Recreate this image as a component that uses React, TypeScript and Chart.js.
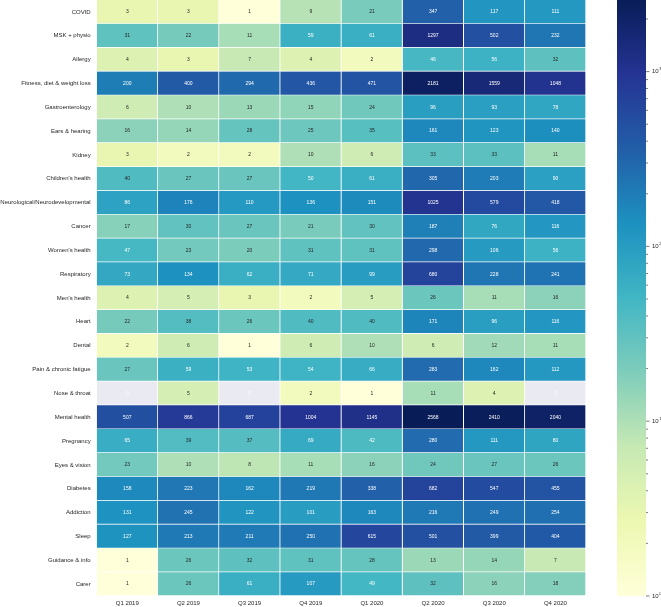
import React, { useEffect, useRef } from "react";
import { Chart, registerables } from "chart.js";

Chart.register(...registerables);

const categories = [
  "COVID", "MSK + physio", "Allergy", "Fitness, diet & weight loss", "Gastroenterology",
  "Ears & hearing", "Kidney", "Children's health", "Neurological/Neurodevelopmental", "Cancer",
  "Women's health", "Respiratory", "Men's health", "Heart", "Dental",
  "Pain & chronic fatigue", "Nose & throat", "Mental health", "Pregnancy", "Eyes & vision",
  "Diabetes", "Addiction", "Sleep", "Guidance & info", "Carer",
];

const quarters = ["Q1 2019", "Q2 2019", "Q3 2019", "Q4 2019", "Q1 2020", "Q2 2020", "Q3 2020", "Q4 2020"];

const q1_2019 = [3, 31, 4, 200, 6, 16, 3, 40, 86, 17, 47, 73, 4, 22, 2, 27, 0, 507, 65, 23, 158, 131, 127, 1, 1];
const q2_2019 = [3, 22, 3, 400, 10, 14, 2, 27, 176, 30, 23, 134, 5, 38, 6, 59, 5, 866, 39, 10, 223, 245, 213, 26, 26];
const q3_2019 = [1, 11, 7, 294, 13, 28, 2, 27, 110, 27, 20, 62, 3, 26, 1, 53, 0, 687, 37, 8, 162, 122, 211, 32, 61];
const q4_2019 = [9, 59, 4, 436, 15, 25, 10, 50, 136, 21, 31, 71, 2, 40, 6, 54, 2, 1004, 69, 11, 219, 101, 250, 31, 107];
const q1_2020 = [21, 61, 2, 471, 24, 35, 6, 61, 151, 30, 31, 99, 5, 40, 10, 66, 1, 1145, 42, 16, 338, 163, 615, 28, 49];
const q2_2020 = [347, 1297, 46, 2181, 96, 161, 33, 305, 1025, 187, 298, 680, 26, 171, 6, 283, 11, 2568, 280, 24, 682, 216, 501, 13, 32];
const q3_2020 = [117, 502, 56, 1559, 93, 123, 33, 203, 579, 76, 106, 228, 11, 96, 12, 162, 4, 2410, 111, 27, 547, 249, 399, 14, 16];
const q4_2020 = [111, 232, 32, 1048, 78, 140, 11, 90, 418, 116, 56, 241, 16, 116, 11, 112, 0, 2040, 80, 26, 455, 254, 404, 7, 18];

const columns = [q1_2019, q2_2019, q3_2019, q4_2019, q1_2020, q2_2020, q3_2020, q4_2020];

const colorbarMin = 1;
const colorbarMax = 2568;

const YLGNBU = [
  [1.0, 1.0, 0.85098], [0.92941, 0.97255, 0.69412], [0.78039, 0.91373, 0.70588],
  [0.49804, 0.80392, 0.73333], [0.2549, 0.71373, 0.76863], [0.11373, 0.56863, 0.75294],
  [0.13333, 0.36863, 0.65882], [0.1451, 0.20392, 0.58039], [0.03137, 0.11373, 0.3451],
];
const BAD = "#EAEAF2";

function cmapRGB(t: number): number[] {
  const tt = Math.max(0, Math.min(1, t)) * (YLGNBU.length - 1);
  const i = Math.min(YLGNBU.length - 2, Math.floor(tt));
  const f = tt - i;
  const a = YLGNBU[i], b = YLGNBU[i + 1];
  return [0, 1, 2].map((k) => a[k] + (b[k] - a[k]) * f);
}
function toCss(c: number[]) {
  return `rgb(${Math.round(c[0] * 255)},${Math.round(c[1] * 255)},${Math.round(c[2] * 255)})`;
}
function normLog(v: number) {
  return (Math.log10(v) - Math.log10(colorbarMin)) / (Math.log10(colorbarMax) - Math.log10(colorbarMin));
}
function cellColor(v: number) {
  if (!(v > 0)) return BAD;
  return toCss(cmapRGB(normLog(v)));
}
function lum(c: number[]) {
  const lin = c.map((x) => (x <= 0.03928 ? x / 12.92 : Math.pow((x + 0.055) / 1.055, 2.4)));
  return 0.2126 * lin[0] + 0.7152 * lin[1] + 0.0722 * lin[2];
}
function textColor(v: number) {
  if (!(v > 0)) return "#ffffff";
  return lum(cmapRGB(normLog(v))) > 0.408 ? "#262626" : "#ffffff";
}

const FONT = "'Liberation Sans', Arial, sans-serif";

const annotatePlugin = {
  id: "annotate",
  afterDatasetsDraw(chart: any) {
    const ctx = chart.ctx;
    ctx.save();
    ctx.font = `5px ${FONT}`;
    ctx.textAlign = "center";
    ctx.textBaseline = "middle";
    chart.data.datasets.forEach((ds: any, j: number) => {
      const meta = chart.getDatasetMeta(j);
      meta.data.forEach((el: any, i: number) => {
        const v = columns[j][i];
        const p = el.getCenterPoint();
        ctx.fillStyle = textColor(v);
        ctx.fillText(String(v), p.x, p.y);
      });
    });
    ctx.restore();
  },
};

const colorbarPlugin = {
  id: "colorbar",
  afterDraw(chart: any) {
    const scale = chart.scales.cb;
    const ctx = chart.ctx;
    const x0 = chart.chartArea.right + 31;
    const w = 29;
    const top = scale.top;
    const bottom = scale.bottom;
    ctx.save();
    for (let py = Math.floor(top); py < Math.ceil(bottom); py++) {
      const v = scale.getValueForPixel(py + 0.5);
      ctx.fillStyle = toCss(cmapRGB(normLog(v)));
      ctx.fillRect(x0, py, w, 1);
    }
    const x1 = x0 + w;
    ctx.strokeStyle = "#262626";
    ctx.lineWidth = 0.6;
    ctx.fillStyle = "#262626";
    ctx.textBaseline = "middle";
    for (let e = 0; e <= 3; e++) {
      for (let m = 1; m <= 9; m++) {
        const v = m * Math.pow(10, e);
        if (v > colorbarMax) continue;
        const py = scale.getPixelForValue(v);
        const major = m === 1;
        ctx.beginPath();
        ctx.moveTo(x1, py);
        ctx.lineTo(x1 + (major ? 3.5 : 2), py);
        ctx.stroke();
        if (major) {
          ctx.font = `6px ${FONT}`;
          ctx.textAlign = "left";
          ctx.fillText("10", x1 + 6, py);
          const tw = ctx.measureText("10").width;
          ctx.font = `4px ${FONT}`;
          ctx.fillText(String(e), x1 + 6 + tw + 0.5, py - 2.5);
        }
      }
    }
    ctx.restore();
  },
};

export default function App() {
  const ref = useRef<HTMLCanvasElement | null>(null);
  useEffect(() => {
    document.body.style.margin = "0";
    document.body.style.overflow = "hidden";
    const canvas = ref.current!;
    const datasets = columns.map((col, j) => ({
      label: quarters[j],
      data: categories.map(() => [j, j + 1]),
      backgroundColor: col.map((v) => cellColor(v)),
      borderColor: "#ffffff",
      borderWidth: { top: 0, left: 0, right: 1, bottom: 1 },
      borderSkipped: false,
      barPercentage: 1,
      categoryPercentage: 1,
      grouped: false,
    }));
    const chart = new Chart(canvas, {
      type: "bar",
      data: { labels: categories, datasets: datasets as any },
      plugins: [annotatePlugin, colorbarPlugin],
      options: {
        animation: false,
        responsive: false,
        indexAxis: "y",
        layout: { padding: { top: 0, right: 75, left: 0, bottom: 0 } },
        plugins: { legend: { display: false }, tooltip: { enabled: false } },
        scales: {
          x: {
            type: "linear",
            min: 0,
            max: 8,
            grid: { display: false, drawTicks: false },
            border: { display: false },
            afterBuildTicks: (axis: any) => {
              axis.ticks = quarters.map((_, i) => ({ value: i + 0.5 }));
            },
            afterFit: (axis: any) => {
              axis.height = 11;
              axis.paddingLeft = 0;
              axis.paddingRight = 0;
            },
            ticks: {
              autoSkip: false,
              maxRotation: 0,
              padding: 4,
              color: "#262626",
              font: { family: FONT, size: 6 },
              callback: (_v: any, i: number) => quarters[i],
            },
          },
          y: {
            type: "category",
            grid: { display: false, drawTicks: false },
            border: { display: false },
            afterFit: (axis: any) => {
              axis.width = 96.7;
              axis.paddingTop = 0;
              axis.paddingBottom = 0;
            },
            ticks: {
              autoSkip: false,
              padding: 6,
              color: "#262626",
              font: { family: FONT, size: 6 },
            },
          },
          cb: {
            type: "logarithmic",
            axis: "y",
            position: "right",
            display: false,
            min: colorbarMin,
            max: colorbarMax,
          },
        },
      } as any,
    });
    return () => chart.destroy();
  }, []);
  return <canvas ref={ref} width={661} height={607} style={{ display: "block" }} />;
}
